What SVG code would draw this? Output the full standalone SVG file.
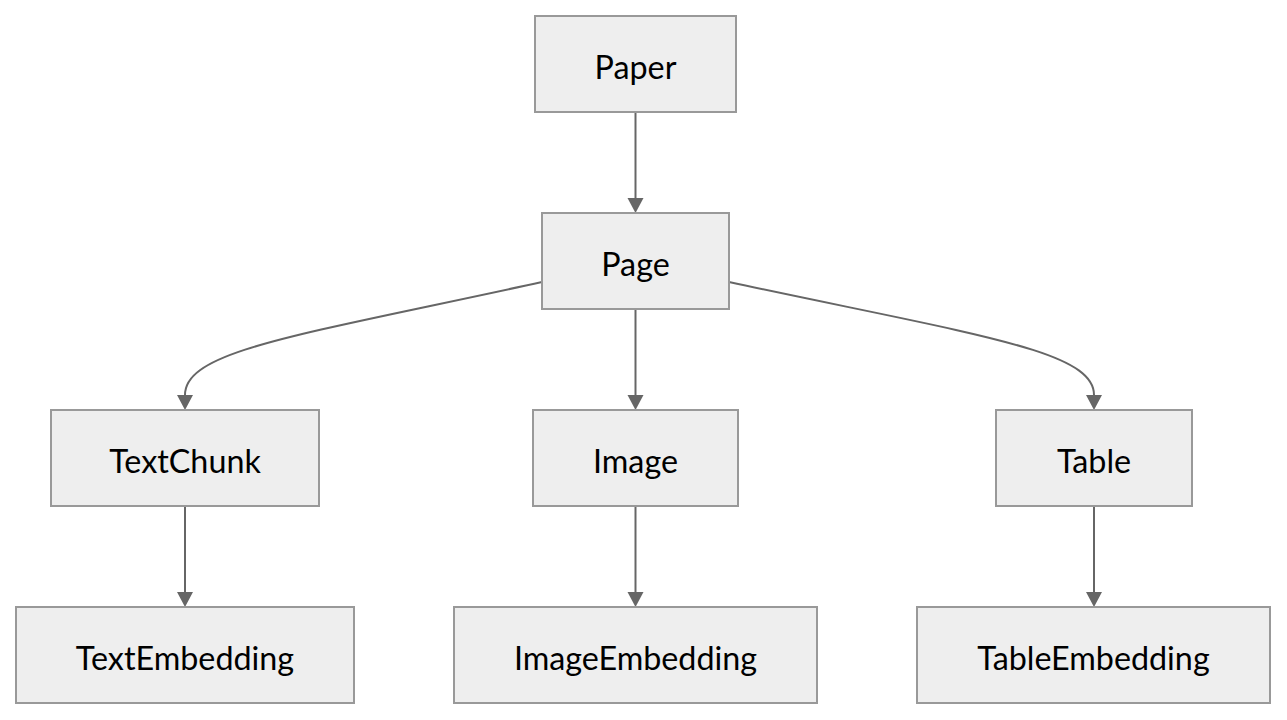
<svg xmlns="http://www.w3.org/2000/svg" width="1287" height="720" viewBox="0 0 1287 720">
  <style>
    .node rect { fill: #eeeeee; stroke: #999999; stroke-width: 2; }
    .node text { font-family: Lato, "Open Sans", "Liberation Sans", sans-serif; font-size: 32.3px; fill: #000000; text-anchor: middle; }
    .edge { fill: none; stroke: #666666; stroke-width: 2; marker-end: url(#arrow); }
  </style>
  <defs>
    <marker id="arrow" markerUnits="userSpaceOnUse" markerWidth="16" markerHeight="17" refX="0" refY="8" orient="auto">
      <path d="M0,0 L15,8 L0,16 z" fill="#666666"/>
    </marker>
  </defs>
  <rect width="1287" height="720" fill="#ffffff"/>
  <g id="connectors">
    <path class="edge" d="M635.5,112 L635.5,198"/>
    <path class="edge" d="M542,282 C300,335 185,350 185,395"/>
    <path class="edge" d="M635.5,309 L635.5,395"/>
    <path class="edge" d="M729,282 C975,335 1094,350 1094,395"/>
    <path class="edge" d="M185,506 L185,592"/>
    <path class="edge" d="M635.5,506 L635.5,592"/>
    <path class="edge" d="M1094,506 L1094,592"/>
  </g>
  <g id="Paper" class="node"><rect x="535" y="16" width="201" height="96"/><text x="635.5" y="79">Paper</text></g>
  <g id="Page" class="node"><rect x="542" y="213" width="187" height="96"/><text x="635.5" y="276">Page</text></g>
  <g id="TextChunk" class="node"><rect x="51" y="410" width="268" height="96"/><text x="185" y="473">TextChunk</text></g>
  <g id="Image" class="node"><rect x="533" y="410" width="205" height="96"/><text x="635.5" y="473">Image</text></g>
  <g id="Table" class="node"><rect x="996" y="410" width="196" height="96"/><text x="1094" y="473">Table</text></g>
  <g id="TextEmbedding" class="node"><rect x="16" y="607" width="338" height="96"/><text x="185" y="670">TextEmbedding</text></g>
  <g id="ImageEmbedding" class="node"><rect x="454" y="607" width="363" height="96"/><text x="635.5" y="670">ImageEmbedding</text></g>
  <g id="TableEmbedding" class="node"><rect x="917" y="607" width="353" height="96"/><text x="1093.5" y="670">TableEmbedding</text></g>
</svg>
